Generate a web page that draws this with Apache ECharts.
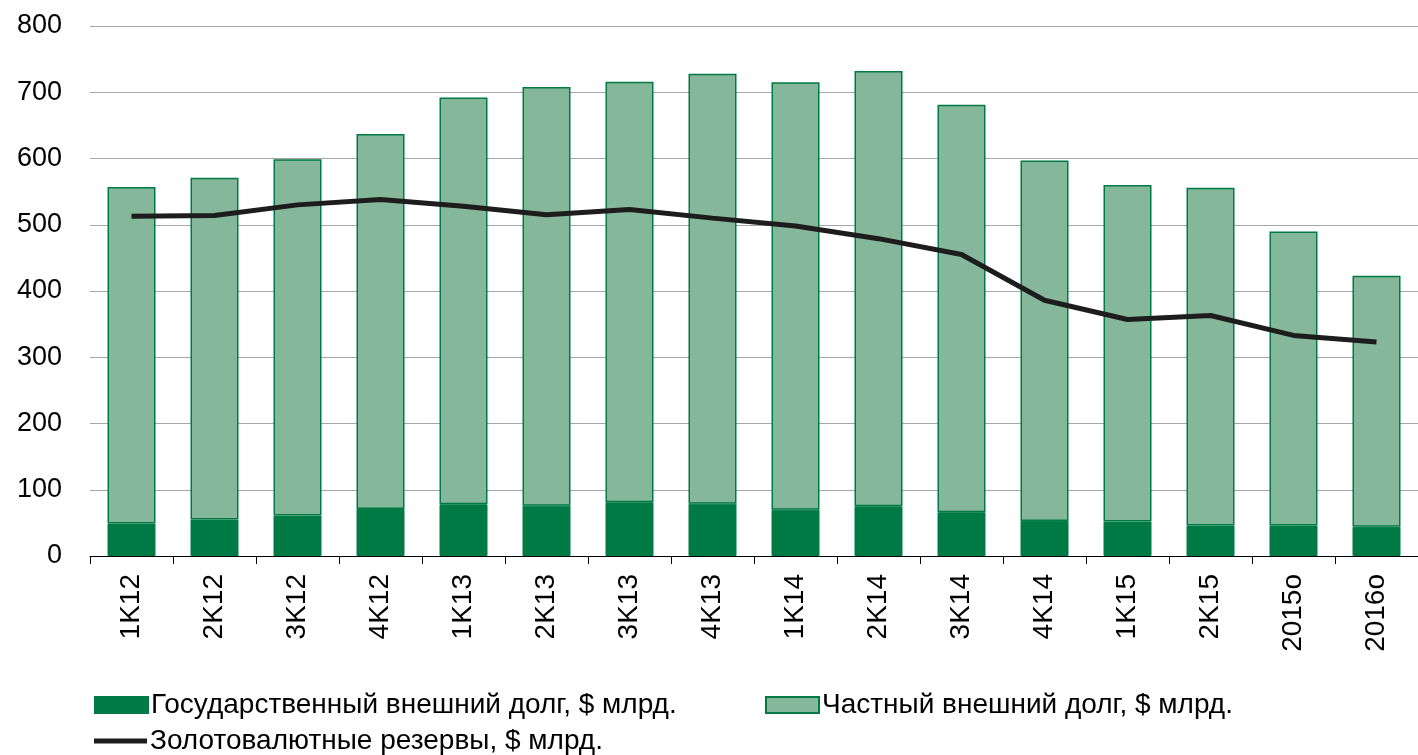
<!DOCTYPE html>
<html>
<head>
<meta charset="utf-8">
<script src="https://cdn.jsdelivr.net/npm/echarts@6/dist/echarts.min.js"></script>
<style>
  html, body { margin: 0; padding: 0; background: #fff; }
  #chart { width: 1418px; height: 755px; }
</style>
</head>
<body>
<div id="chart"></div>
<script>
// categories (quarters + forecasts)
const categories = ['1K12', '2K12', '3K12', '4K12', '1K13', '2K13', '3K13', '4K13',
  '1K14', '2K14', '3K14', '4K14', '1K15', '2K15', '2015o', '2016o']

// $ bn
const govDebt = [49, 55, 61, 71, 78, 76, 81, 79, 70, 75, 66, 53, 52, 46, 46, 44]
const privateDebt = [508, 516, 538, 566, 614, 632, 635, 649, 645, 657, 615, 544, 508, 510, 444, 379]
const reserves = [513, 514, 530, 538, 528, 515, 523, 510, 498, 479, 455, 386, 357, 363, 333, 323]

const yTicks = { min: 0, max: 800, interval: 100 }

const names = {
  gov: 'Государственный внешний долг, $ млрд.',
  priv: 'Частный внешний долг, $ млрд.',
  res: 'Золотовалютные резервы, $ млрд.'
}

const FONT = '"Liberation Sans", Arial, sans-serif'
const legendText = { fontFamily: FONT, fontSize: 28, color: '#000', padding: [0, 0, 0, -2] }

const chart = echarts.init(document.getElementById('chart'), null, { renderer: 'canvas' })

chart.setOption({
  animation: false,
  grid: { left: 90, right: -6, top: 26, bottom: 199 },
  legend: [
    {
      data: [{ name: names.gov, icon: 'rect' }], left: 94, top: 691, padding: 0,
      itemWidth: 53, itemHeight: 16, itemGap: 0, textStyle: legendText
    },
    {
      data: [{ name: names.priv, icon: 'rect' }], left: 765, top: 691, padding: 0,
      itemWidth: 53, itemHeight: 16, itemGap: 0, textStyle: legendText
    },
    {
      data: [{ name: names.res, icon: 'rect' }], left: 94, top: 727, padding: 0,
      itemWidth: 53, itemHeight: 5, itemGap: 0, textStyle: legendText,
      itemStyle: { color: '#1d1d1d', borderWidth: 0 }
    }
  ],
  xAxis: {
    type: 'category',
    data: categories,
    axisLine: { lineStyle: { color: '#000', width: 1 } },
    axisTick: { show: true, length: 8, lineStyle: { color: '#000' } },
    axisLabel: {
      rotate: 90, margin: 18, color: '#000', fontFamily: FONT, fontSize: 28
    }
  },
  yAxis: {
    type: 'value',
    min: yTicks.min,
    max: yTicks.max,
    interval: yTicks.interval,
    axisLine: { show: false },
    axisTick: { show: false },
    axisLabel: { margin: 28, color: '#000', fontFamily: FONT, fontSize: 27 },
    splitLine: { lineStyle: { color: '#a6a6a6', width: 1 } }
  },
  series: [
    {
      name: names.gov,
      type: 'bar',
      stack: 'debt',
      barWidth: 48,
      itemStyle: { color: '#007a45', borderColor: '#007a45', borderWidth: 1 },
      data: govDebt
    },
    {
      name: names.priv,
      type: 'bar',
      stack: 'debt',
      barWidth: 48,
      itemStyle: { color: '#85b79a', borderColor: '#007a45', borderWidth: 1.5 },
      data: privateDebt
    },
    {
      name: names.res,
      type: 'line',
      symbol: 'none',
      z: 5,
      lineStyle: { color: '#1d1d1d', width: 5 },
      itemStyle: { color: '#1d1d1d' },
      data: reserves
    }
  ]
})
</script>
</body>
</html>
